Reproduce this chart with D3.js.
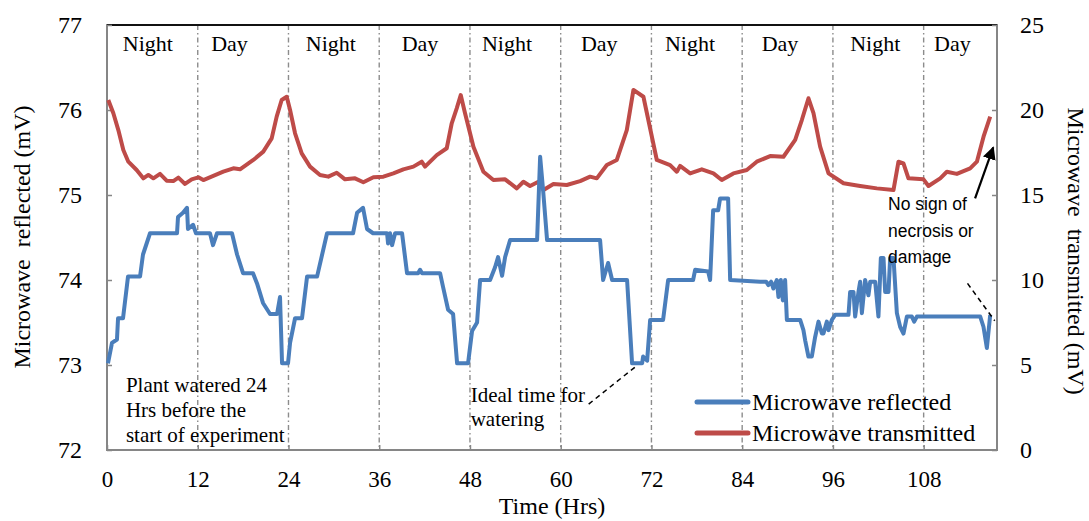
<!DOCTYPE html>
<html>
<head>
<meta charset="utf-8">
<script src="https://cdn.jsdelivr.net/npm/d3@7"></script>
<style>
body{margin:0;background:#fff;}
svg{display:block;}
</style>
</head>
<body>
<svg id="canvas" width="1089" height="521"></svg>
<script>
// microwave reflected (left axis, mV)
let reflHours=[0.13,0.66,1.32,1.46,2.12,2.78,4.37,4.76,5.69,9.26,9.39,10.05,10.58,10.71,11.38,11.77,13.62,14.02,14.55,16.53,17.20,17.99,19.31,19.84,20.63,21.56,22.49,22.88,23.15,23.94,24.21,24.87,25.79,26.46,27.78,29.10,32.54,33.07,33.86,34.39,35.19,37.04,37.17,37.43,37.70,38.10,39.02,39.68,41.14,41.40,41.67,44.05,44.44,45.11,45.77,46.30,47.75,48.28,48.94,49.34,50.66,51.32,51.72,52.25,52.65,53.31,56.88,57.28,57.67,58.20,65.21,65.61,66.27,66.80,68.78,69.44,70.77,70.90,71.43,71.83,73.54,74.21,77.51,77.78,79.50,79.76,80.16,80.82,81.08,82.14,82.41,86.38,87.17,87.47,87.83,88.13,88.58,88.80,89.11,89.38,89.68,89.91,91.67,92.10,92.33,92.76,93.21,93.65,94.09,94.54,94.75,95.20,95.42,95.86,96.30,98.06,98.28,98.72,98.94,99.38,99.60,99.83,100.26,100.70,100.93,101.59,102.02,102.34,102.69,102.91,103.35,103.57,104.01,104.46,104.89,105.33,105.78,106.44,106.75,107.10,115.48,115.91,116.36,116.80];
let reflValues=[73.02,73.26,73.30,73.55,73.55,74.04,74.04,74.30,74.55,74.55,74.74,74.79,74.85,74.60,74.65,74.55,74.55,74.41,74.55,74.55,74.30,74.08,74.08,73.96,73.73,73.60,73.60,73.80,73.02,73.02,73.26,73.55,73.55,74.04,74.04,74.55,74.55,74.79,74.85,74.60,74.55,74.55,74.43,74.55,74.41,74.55,74.55,74.08,74.08,74.12,74.08,74.08,73.92,73.65,73.60,73.02,73.02,73.40,73.50,74.00,74.00,74.15,74.27,74.05,74.27,74.47,74.47,75.45,75.06,74.47,74.47,74.00,74.20,74.00,74.00,73.02,73.02,73.10,73.05,73.53,73.53,74.00,74.00,74.12,74.10,74.00,74.82,74.82,74.96,74.96,74.00,73.98,73.98,73.94,73.98,73.90,74.00,73.80,74.00,73.76,74.00,73.53,73.53,73.41,73.29,73.10,73.10,73.33,73.51,73.37,73.37,73.51,73.41,73.53,73.59,73.59,73.86,73.86,73.57,73.86,73.98,73.61,74.00,73.82,73.98,73.98,73.57,74.26,74.26,73.86,73.86,74.26,74.26,73.61,73.45,73.37,73.57,73.57,73.51,73.57,73.57,73.45,73.20,73.59];

// microwave transmitted (right axis, mV)
let transHours=[0.17,0.84,1.50,2.16,2.82,3.92,4.80,5.47,6.13,7.01,7.89,8.77,9.44,10.32,11.20,12.08,12.74,14.06,15.38,16.71,17.59,19.35,20.67,21.78,22.44,23.10,23.77,24.21,24.87,25.75,26.85,28.17,29.27,30.38,31.48,32.80,33.90,35.23,36.55,37.87,39.19,40.52,41.62,42.06,43.61,44.93,45.59,46.25,46.78,47.35,48.46,49.78,51.10,52.65,54.19,55.07,55.95,57.05,57.72,59.04,60.80,62.57,63.89,64.77,66.10,67.42,68.74,69.62,70.94,72.71,74.47,75.36,75.79,77.12,78.66,80.20,81.30,82.84,84.61,85.93,87.70,89.46,91.01,91.89,92.77,93.43,94.31,95.42,97.40,99.60,101.81,104.01,104.67,105.33,105.99,107.98,108.64,110.19,111.07,112.39,114.15,115.04,115.92,116.80];
let transValues=[20.59,19.81,18.82,17.65,16.96,16.47,15.98,16.18,15.98,16.24,15.84,15.82,16.02,15.65,15.92,16.04,15.88,16.12,16.37,16.57,16.51,17.06,17.55,18.33,19.61,20.59,20.78,20.00,18.63,17.45,16.67,16.18,16.08,16.31,15.92,15.98,15.75,16.04,16.08,16.27,16.51,16.67,16.96,16.67,17.35,17.75,19.22,20.10,20.88,19.81,17.84,16.37,15.88,15.92,15.39,15.78,15.53,15.78,15.29,15.65,15.59,15.82,16.08,15.98,16.76,17.06,18.82,21.18,20.78,17.06,16.76,16.37,16.71,16.27,16.51,16.27,15.88,16.27,16.47,16.96,17.29,17.25,18.24,19.41,20.69,19.81,17.84,16.27,15.69,15.53,15.39,15.29,16.96,16.86,15.98,15.92,15.53,15.98,16.37,16.24,16.57,16.96,18.43,19.61];

let xTicks=[0,12,24,36,48,60,72,84,96,108];
let leftTicks=[72,73,74,75,76,77];
let rightTicks=[0,5,10,15,20,25];
let periodNames=["Night","Day","Night","Day","Night","Day","Night","Day","Night","Day"];
let periodHours=[5.4,16.2,29.6,41.4,52.9,65.1,77.1,89.0,101.6,111.8];

let reflected=reflHours.map((h,i)=>[h,reflValues[i]]);
let transmitted=transHours.map((h,i)=>[h,transValues[i]]);

let w=1089,h=521;
let m={l:107,r:92,t:25,b:71};
let serif='"Liberation Serif","Times New Roman",serif';
let blue="#4a7ebb",red="#be4b48",frameCol="#868686";

let xScale=d3.scaleLinear().domain([0,117.7]).range([m.l,w-m.r]);
let yLeft=d3.scaleLinear().domain([72,77]).range([h-m.b,m.t]);
let yRight=d3.scaleLinear().domain([0,25]).range([h-m.b,m.t]);

let canvas=d3.select('#canvas');

// dash-dot gridlines every 12 hrs
canvas.append('g').selectAll('line').data(xTicks.slice(1)).enter().append('line')
  .attr('x1',d=>xScale(d)).attr('x2',d=>xScale(d))
  .attr('y1',m.t).attr('y2',h-m.b)
  .attr('stroke','#8c8c8c').attr('stroke-width',1.4).attr('stroke-dasharray','5,3,1.5,3');

// frame
canvas.append('rect').attr('x',m.l).attr('y',m.t).attr('width',w-m.l-m.r).attr('height',h-m.t-m.b)
  .attr('fill','none').attr('stroke',frameCol).attr('stroke-width',2);
canvas.append('line').attr('x1',m.l).attr('x2',w-m.r).attr('y1',m.t).attr('y2',m.t).attr('stroke','#111').attr('stroke-width',2);

let styleAxis=(g,size)=>{
  g.select('.domain').remove();
  g.selectAll('.tick line').attr('stroke',frameCol).attr('stroke-width',1.5);
  g.selectAll('.tick text').style('font-family',serif).style('font-size',size).attr('fill','#000');
};

canvas.append('g').attr('id','x-axis').attr('transform','translate(0,'+(h-m.b)+')')
  .call(d3.axisBottom(xScale).tickValues(xTicks).tickFormat(d3.format('d')).tickSizeInner(-5).tickSizeOuter(0).tickPadding(21))
  .call(styleAxis,'23px');
canvas.append('g').attr('id','y-axis').attr('transform','translate('+m.l+',0)')
  .call(d3.axisLeft(yLeft).tickValues(leftTicks).tickFormat(d3.format('d')).tickSizeInner(-5).tickSizeOuter(0).tickPadding(25))
  .call(styleAxis,'24px');
canvas.append('g').attr('id','y2-axis').attr('transform','translate('+(w-m.r)+',0)')
  .call(d3.axisRight(yRight).tickValues(rightTicks).tickFormat(d3.format('d')).tickSizeInner(-5).tickSizeOuter(0).tickPadding(23))
  .call(styleAxis,'24px');

// series
let lineL=d3.line().x(d=>xScale(d[0])).y(d=>yLeft(d[1]));
let lineR=d3.line().x(d=>xScale(d[0])).y(d=>yRight(d[1]));
canvas.append('path').datum(transmitted).attr('d',lineR).attr('fill','none').attr('stroke',red).attr('stroke-width',4).attr('stroke-linejoin','round');
canvas.append('path').datum(reflected).attr('d',lineL).attr('fill','none').attr('stroke',blue).attr('stroke-width',4).attr('stroke-linejoin','round');

// night / day labels
canvas.append('g').selectAll('text').data(periodNames).enter().append('text')
  .attr('x',(d,i)=>xScale(periodHours[i])).attr('y',yLeft(76.7))
  .attr('text-anchor','middle').style('font-family',serif).style('font-size','22px').text(d=>d);

// annotations
let note1=["Plant watered 24","Hrs before the","start of experiment"];
canvas.append('g').selectAll('text').data(note1).enter().append('text')
  .attr('x',xScale(2.5)).attr('y',(d,i)=>yLeft(72.68)+i*25)
  .style('font-family',serif).style('font-size','21px').text(d=>d);
let note2=["Ideal time for","watering"];
canvas.append('g').selectAll('text').data(note2).enter().append('text')
  .attr('x',xScale(48.1)).attr('y',(d,i)=>yLeft(72.57)+i*24.5)
  .style('font-family',serif).style('font-size','21px').text(d=>d);
canvas.append('line').attr('x1',xScale(63.7)).attr('y1',yLeft(72.54)).attr('x2',xScale(69.9)).attr('y2',yLeft(72.98))
  .attr('stroke','#000').attr('stroke-width',1.5).attr('stroke-dasharray','5,4');

let note3=["No sign of","necrosis or","damage"];
canvas.append('g').selectAll('text').data(note3).enter().append('text')
  .attr('x',xScale(103.3)).attr('y',(d,i)=>yLeft(74.82)+i*26.5)
  .style('font-family','"Liberation Sans",Arial,sans-serif').style('font-size','17.5px').text(d=>d);
canvas.append('line').attr('x1',xScale(113.8)).attr('y1',yLeft(73.96)).attr('x2',xScale(117.4)).attr('y2',yLeft(73.52))
  .attr('stroke','#000').attr('stroke-width',1.5).attr('stroke-dasharray','5,4');

canvas.append('defs').append('marker').attr('id','arrow').attr('viewBox','0 0 10 10')
  .attr('refX',9).attr('refY',5).attr('markerWidth',6).attr('markerHeight',6).attr('orient','auto')
  .append('path').attr('d','M0,0L10,5L0,10z').attr('fill','#000');
canvas.append('line').attr('x1',xScale(114.8)).attr('y1',yRight(14.8)).attr('x2',xScale(117.2)).attr('y2',yRight(17.8))
  .attr('stroke','#000').attr('stroke-width',2.2).attr('marker-end','url(#arrow)');

// legend
let legend=[["Microwave reflected",blue],["Microwave transmitted",red]];
let lg=canvas.append('g').selectAll('g').data(legend).enter().append('g')
  .attr('transform',(d,i)=>'translate(697,'+(402+i*31)+')');
lg.append('line').attr('x1',0).attr('x2',51).attr('stroke',d=>d[1]).attr('stroke-width',5).attr('stroke-linecap','round');
lg.append('text').attr('x',55).attr('y',8).style('font-family',serif).style('font-size','24px').text(d=>d[0]);

// axis titles
canvas.append('text').attr('text-anchor','middle').attr('x',(m.l+w-m.r)/2).attr('y',514)
  .style('font-family',serif).style('font-size','24px').text('Time (Hrs)');
canvas.append('text').attr('text-anchor','middle').attr('transform','translate(30,237) rotate(-90)')
  .style('font-family',serif).style('font-size','24px').style('white-space','pre').text('Microwave  reflected (mV)');
canvas.append('text').attr('text-anchor','middle').attr('transform','translate(1068,251) rotate(90)')
  .style('font-family',serif).style('font-size','24px').style('white-space','pre').text('Microwave  transmitted (mV)');
</script>
</body>
</html>
